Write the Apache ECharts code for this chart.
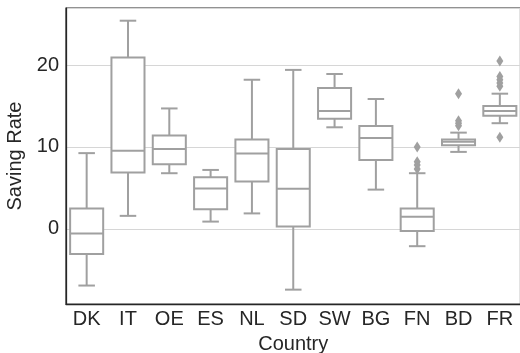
<!DOCTYPE html>
<html>
<head>
<meta charset="utf-8">
<script src="https://cdn.jsdelivr.net/npm/echarts@6.0.0/dist/echarts.min.js"></script>
<style>
  html, body { margin: 0; padding: 0; background: #fff; }
  #chart { width: 520px; height: 353px; }
</style>
</head>
<body>
<div id="chart"></div>
<script>
// saving rate by country, box plot
const countries = ['DK', 'IT', 'OE', 'ES', 'NL', 'SD', 'SW', 'BG', 'FN', 'BD', 'FR'];
const whiskerLow  = [-6.9, 1.6, 6.8, 0.9, 1.9, -7.4, 12.4, 4.8, -2.1, 9.4, 12.9];
const quartile1   = [-3.05, 6.9, 7.9, 2.4, 5.8, 0.3, 13.45, 8.4, -0.25, 10.2, 13.8];
const medians     = [-0.55, 9.55, 9.75, 4.95, 9.2, 4.9, 14.4, 11.1, 1.5, 10.65, 14.4];
const quartile3   = [2.5, 20.9, 11.4, 6.3, 10.9, 9.75, 17.2, 12.55, 2.5, 10.9, 15.0];
const whiskerHigh = [9.25, 25.4, 14.7, 7.2, 18.2, 19.4, 18.9, 15.85, 6.8, 11.75, 16.5];

const outlierCountry = ['FN', 'FN', 'FN', 'FN', 'BD', 'BD', 'BD', 'BD', 'FR', 'FR', 'FR', 'FR', 'FR', 'FR'];
const outlierValue   = [10.0, 8.2, 7.8, 7.3, 16.5, 13.2, 12.9, 12.6, 20.5, 18.6, 18.2, 17.8, 17.4, 11.2];

const yTicks = [0, 10, 20];

const lineColor = '#a0a0a0';
const textColor = '#262626';
const font = 'Liberation Sans, Arial, sans-serif';

const boxData = countries.map((c, i) => [i, whiskerLow[i], quartile1[i], medians[i], quartile3[i], whiskerHigh[i]]);
const outlierData = outlierCountry.map((c, i) => [countries.indexOf(c), outlierValue[i]]);

const chart = echarts.init(document.getElementById('chart'));

const renderBox = (params, api) => {
    const idx = api.value(0);
    const x = api.coord([idx, 0])[0];
    const bw = api.size([1, 0])[0] * 0.8;
    const cw = bw / 2;
    const y = (k) => api.coord([idx, api.value(k)])[1];
    const yLow = y(1), yQ1 = y(2), yMed = y(3), yQ3 = y(4), yHigh = y(5);
    const st = { stroke: lineColor, lineWidth: 2, fill: null };
    return {
        type: 'group',
        children: [
            { type: 'line', shape: { x1: x, y1: yQ1, x2: x, y2: yLow }, style: st },
            { type: 'line', shape: { x1: x, y1: yQ3, x2: x, y2: yHigh }, style: st },
            { type: 'line', shape: { x1: x - cw / 2, y1: yLow, x2: x + cw / 2, y2: yLow }, style: st },
            { type: 'line', shape: { x1: x - cw / 2, y1: yHigh, x2: x + cw / 2, y2: yHigh }, style: st },
            { type: 'rect', shape: { x: x - bw / 2, y: yQ3, width: bw, height: yQ1 - yQ3 },
              style: { stroke: lineColor, lineWidth: 2, fill: '#fff' } },
            { type: 'line', shape: { x1: x - bw / 2, y1: yMed, x2: x + bw / 2, y2: yMed }, style: st }
        ]
    };
};

const option = {
    animation: false,
    backgroundColor: '#fff',
    grid: {
        left: 66,
        right: -0.5,
        top: 8,
        bottom: 49,
        containLabel: false,
        outerBoundsMode: 'none',
        show: true,
        borderColor: textColor,
        borderWidth: 1.25
    },
    xAxis: {
        type: 'category',
        data: countries,
        boundaryGap: true,
        name: 'Country',
        nameLocation: 'middle',
        nameGap: 30,
        nameTextStyle: { color: textColor, fontSize: 20, fontFamily: font },
        axisLine: { show: true, onZero: false, lineStyle: { color: textColor, width: 1.25 } },
        axisTick: { show: false },
        axisLabel: { color: textColor, fontSize: 20, fontFamily: font, margin: 5, interval: 0 },
        splitLine: { show: false }
    },
    yAxis: {
        type: 'value',
        min: -9.15,
        max: 26.95,
        splitNumber: 4,
        minInterval: 10,
        maxInterval: 10,
        name: 'Saving Rate',
        nameLocation: 'middle',
        nameGap: 40,
        nameTextStyle: { color: textColor, fontSize: 20, fontFamily: font },
        axisLine: { show: true, lineStyle: { color: textColor, width: 1.25 } },
        axisTick: { show: false },
        axisLabel: {
            color: textColor, fontSize: 20, fontFamily: font, margin: 7,
            showMinLabel: false, showMaxLabel: false,
            formatter: (v) => (yTicks.indexOf(v) >= 0 ? String(v) : '')
        },
        splitLine: { show: true, lineStyle: { color: '#d6d6d6', width: 1 } }
    },
    series: [
        {
            type: 'custom',
            renderItem: renderBox,
            encode: { x: 0, y: [1, 2, 3, 4, 5] },
            data: boxData,
            z: 2
        },
        {
            type: 'scatter',
            symbol: 'diamond',
            symbolSize: [7, 11],
            itemStyle: { color: lineColor, opacity: 1 },
            data: outlierData,
            z: 3
        }
    ]
};

chart.setOption(option);
</script>
</body>
</html>
